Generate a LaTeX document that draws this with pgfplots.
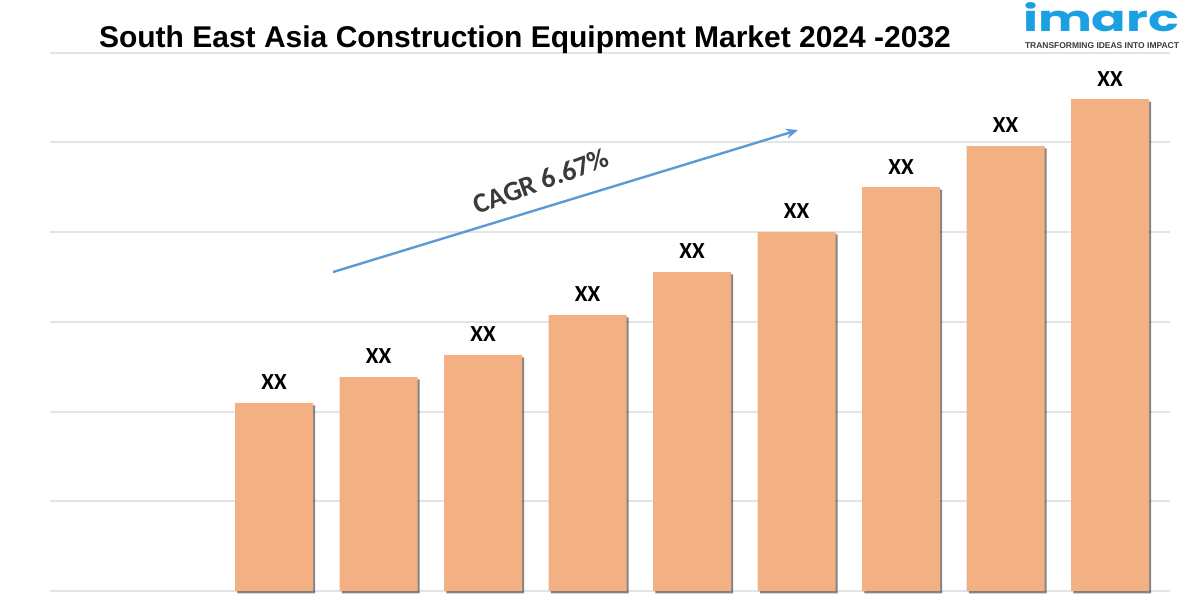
\documentclass[border=0pt]{standalone}
\usepackage{pgfplots}
\pgfplotsset{compat=1.18}
\usepackage{fontspec}
\setmainfont{Liberation Sans}
\newfontfamily\carlito{Carlito}
\newfontfamily\poppins{Poppins}
\usetikzlibrary{shadows,arrows.meta}
\definecolor{barfill}{HTML}{F3B083}
\definecolor{gridc}{HTML}{E4E4E4}
\definecolor{arrowc}{HTML}{5B9BD5}
\definecolor{cagrc}{HTML}{3A3A3A}
\definecolor{logoc}{HTML}{1BA1E2}
\begin{document}
\begin{tikzpicture}
\useasboundingbox (0,0) rectangle (600pt,300pt);
\begin{axis}[
  at={(25pt,4.5pt)}, anchor=south west,
  scale only axis, width=560pt, height=269.25pt,
  xmin=-2.144, xmax=8.574, ymin=0, ymax=6,
  axis line style={draw=none},
  ytick={0,1,2,3,4,5,6}, yticklabels={}, xtick=\empty,
  major tick length=0pt,
  ymajorgrids, grid style={gridc, line width=1pt},
  clip=false,
]
\addplot[ybar, bar width=0.746, fill=barfill, draw=none,
  drop shadow={shadow xshift=1.1pt, shadow yshift=-1.2pt, opacity=0.6, fill=black!80},
  nodes near coords={XX},
  every node near coord/.append style={font=\carlito\bfseries\fontsize{11.5}{13}\selectfont, text=black, anchor=south, yshift=3pt}]
  coordinates {(0,2.095) (1,2.384) (2,2.63) (3,3.075) (4,3.554) (5,4.0) (6,4.50) (7,4.958) (8,5.48)};
\draw[arrowc, line width=1.2pt, -{Stealth[length=6pt,width=5pt]}] (axis cs:0.565,3.554) -- (axis cs:5.014,5.136);
\end{axis}
\node[font=\carlito\bfseries\fontsize{14}{16}\selectfont, text=cagrc, rotate=20, inner sep=0pt] at (270.5pt,209.5pt) {CAGR 6.67\%};
\node[font=\bfseries\fontsize{15}{18}\selectfont, anchor=base, inner sep=0pt] at (262.5pt,276pt) {South East Asia Construction Equipment Market 2024 -2032};
\node[text=logoc, inner sep=0pt] at (550.5pt,291.5pt) {\resizebox{78pt}{14.5pt}{\poppins\bfseries imarc}};
\node[text=cagrc, inner sep=0pt] at (551pt,277pt) {\resizebox{77pt}{!}{\bfseries TRANSFORMING IDEAS INTO IMPACT}};
\end{tikzpicture}
\end{document}
